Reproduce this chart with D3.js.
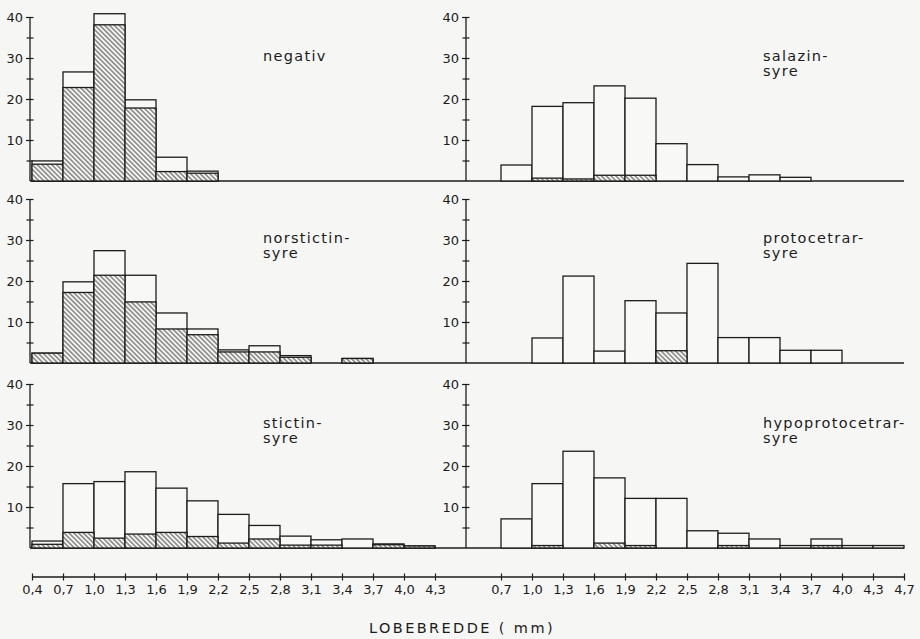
<!DOCTYPE html>
<html>
<head>
<meta charset="utf-8">
<script src="https://cdn.jsdelivr.net/npm/d3@7"></script>
<style>
  html, body { margin: 0; padding: 0; background: #f6f6f4; }
  svg { display: block; }
  text { font-family: "DejaVu Sans", "Liberation Sans", sans-serif; fill: #1c1c1c; }
</style>
</head>
<body>
<svg id="chart" width="920" height="639"></svg>
<script>
// ---- tick labels (bin edges) ----
const leftTicks  = ["0,4","0,7","1,0","1,3","1,6","1,9","2,2","2,5","2,8","3,1","3,4","3,7","4,0","4,3"];
const rightTicks = ["0,7","1,0","1,3","1,6","1,9","2,2","2,5","2,8","3,1","3,4","3,7","4,0","4,3","4,7"];
const yTickValues = [5,10,15,20,25,30,35,40];

// ---- series: total (white bar) and hatched part, per bin ----
// left column bins start at 0,4 ; right column bins start at 0,7
const negativTotal   = [4.9, 26.6, 40.8, 19.8, 5.8, 2.4, 0, 0, 0, 0, 0, 0, 0];
const negativHatched = [4.1, 22.8, 38.1, 17.8, 2.3, 1.9, 0, 0, 0, 0, 0, 0, 0];

const salazinTotal   = [3.9, 18.2, 19.1, 23.2, 20.2, 9.1, 4.0, 1.0, 1.5, 0.9, 0, 0, 0];
const salazinHatched = [0, 0.7, 0.5, 1.4, 1.4, 0, 0, 0, 0, 0, 0, 0, 0];

const norstictinTotal   = [2.4, 19.8, 27.4, 21.4, 12.2, 8.3, 3.2, 4.2, 1.8, 0, 1.1, 0, 0];
const norstictinHatched = [2.4, 17.2, 21.4, 14.9, 8.3, 6.9, 2.7, 2.7, 1.4, 0, 1.1, 0, 0];

const protocetrarTotal   = [0, 6.1, 21.2, 2.9, 15.2, 12.2, 24.3, 6.2, 6.2, 3.1, 3.1, 0, 0];
const protocetrarHatched = [0, 0, 0, 0, 0, 3.0, 0, 0, 0, 0, 0, 0, 0];

const stictinTotal   = [1.7, 15.7, 16.2, 18.6, 14.6, 11.5, 8.2, 5.5, 2.9, 2.0, 2.2, 1.0, 0.5];
const stictinHatched = [0.9, 3.8, 2.4, 3.4, 3.8, 2.8, 1.2, 2.2, 0.7, 0.7, 0, 0.8, 0.5];

const hypoTotal   = [7.1, 15.7, 23.6, 17.1, 12.1, 12.1, 4.2, 3.6, 2.2, 0.6, 2.2, 0.6, 0.6];
const hypoHatched = [0, 0.6, 0, 1.2, 0.6, 0, 0, 0.6, 0, 0, 0.6, 0, 0];

const panels = [
  {col: 0, row: 0, lines: ["negativ"], total: negativTotal, hatched: negativHatched},
  {col: 1, row: 0, lines: ["salazin-", "syre"], total: salazinTotal, hatched: salazinHatched},
  {col: 0, row: 1, lines: ["norstictin-", "syre"], total: norstictinTotal, hatched: norstictinHatched},
  {col: 1, row: 1, lines: ["protocetrar-", "syre"], total: protocetrarTotal, hatched: protocetrarHatched},
  {col: 0, row: 2, lines: ["stictin-", "syre"], total: stictinTotal, hatched: stictinHatched},
  {col: 1, row: 2, lines: ["hypoprotocetrar-", "syre"], total: hypoTotal, hatched: hypoHatched}
];

// ---- layout ----
const INK = "#1c1c1c";
const svg = d3.select("#chart");
const rowBase = [181, 363, 548];
const axisX = [30, 466];
const labelX = [263, 763];
const xScales = [
  d3.scaleLinear().domain([0, 13]).range([32, 435]),
  d3.scaleLinear().domain([0, 13]).range([501, 904])
];
const lineEndX = 904;

// hatch pattern
const defs = svg.append("defs");
const pat = defs.append("pattern")
  .attr("id", "hatch").attr("patternUnits", "userSpaceOnUse")
  .attr("width", 3.4).attr("height", 3.4)
  .attr("patternTransform", "rotate(-45)");
pat.append("rect").attr("width", 3.4).attr("height", 3.4).attr("fill", "#f6f6f4");
pat.append("line").attr("x1", 1.7).attr("y1", -1).attr("x2", 1.7).attr("y2", 4.4)
  .attr("stroke", "#2a2a2a").attr("stroke-width", 0.85);

// baselines (continuous across both columns)
rowBase.forEach(b => {
  svg.append("line").attr("x1", axisX[0]).attr("x2", lineEndX)
    .attr("y1", b).attr("y2", b).attr("stroke", INK).attr("stroke-width", 1.4);
});

panels.forEach(p => {
  const base = rowBase[p.row];
  const y = d3.scaleLinear().domain([0, 40]).range([base, base - 164]);
  const x = xScales[p.col];
  const g = svg.append("g");

  // y axis
  const ax = g.append("g")
    .attr("transform", `translate(${axisX[p.col]},0)`)
    .call(d3.axisLeft(y).tickValues(yTickValues).tickSize(4)
      .tickFormat(d => d % 10 === 0 ? d : ""));
  ax.select(".domain").remove();
  ax.selectAll(".tick line").attr("x1", d => d % 10 === 0 ? -4 : -3.5).attr("x2", 3.5)
    .attr("stroke", INK).attr("stroke-width", 1.2);
  ax.selectAll(".tick text").attr("x", -7).attr("font-size", 13)
    .attr("font-family", "DejaVu Sans, sans-serif").attr("fill", INK);
  ax.append("line").attr("x1", 0).attr("x2", 0).attr("y1", y(0)).attr("y2", y(40))
    .attr("stroke", INK).attr("stroke-width", 1.3);

  const idx = d3.range(p.total.length).filter(i => p.total[i] > 0);
  // total bars
  g.selectAll("rect.tot").data(idx).join("rect").attr("class", "tot")
    .attr("x", i => x(i)).attr("width", i => x(i + 1) - x(i))
    .attr("y", i => y(p.total[i])).attr("height", i => y(0) - y(p.total[i]))
    .attr("fill", "#f8f8f6").attr("stroke", INK).attr("stroke-width", 1.3);
  // hatched part
  const hidx = idx.filter(i => p.hatched[i] > 0);
  g.selectAll("rect.hat").data(hidx).join("rect").attr("class", "hat")
    .attr("x", i => x(i)).attr("width", i => x(i + 1) - x(i))
    .attr("y", i => y(p.hatched[i])).attr("height", i => y(0) - y(p.hatched[i]))
    .attr("fill", "url(#hatch)").attr("stroke", INK).attr("stroke-width", 1.3);

  // label
  const t = g.append("text").attr("x", labelX[p.col]).attr("y", base - 120)
    .attr("font-size", 14.5).attr("letter-spacing", 1.3);
  p.lines.forEach((ln, k) => {
    t.append("tspan").attr("x", labelX[p.col]).attr("dy", k === 0 ? 0 : 15).text(ln);
  });
});

// bottom x axes
const axisY = 577;
svg.append("line").attr("x1", 32).attr("x2", 904).attr("y1", axisY).attr("y2", axisY)
  .attr("stroke", INK).attr("stroke-width", 1.3);
[leftTicks, rightTicks].forEach((labels, c) => {
  const ax = svg.append("g").attr("transform", `translate(0,${axisY})`)
    .call(d3.axisBottom(xScales[c]).tickValues(d3.range(14)).tickSize(4)
      .tickFormat(i => labels[i]));
  ax.select(".domain").remove();
  ax.selectAll(".tick line").attr("y1", -3.5).attr("y2", 3.5)
    .attr("stroke", INK).attr("stroke-width", 1.2);
  ax.selectAll(".tick text").attr("y", 8).attr("font-size", 13)
    .attr("font-family", "DejaVu Sans, sans-serif").attr("fill", INK);
});

// axis title
svg.append("text").attr("x", 462).attr("y", 633).attr("text-anchor", "middle")
  .attr("font-size", 14.5).attr("letter-spacing", 2.4).text("LOBEBREDDE ( mm)");
</script>
</body>
</html>
